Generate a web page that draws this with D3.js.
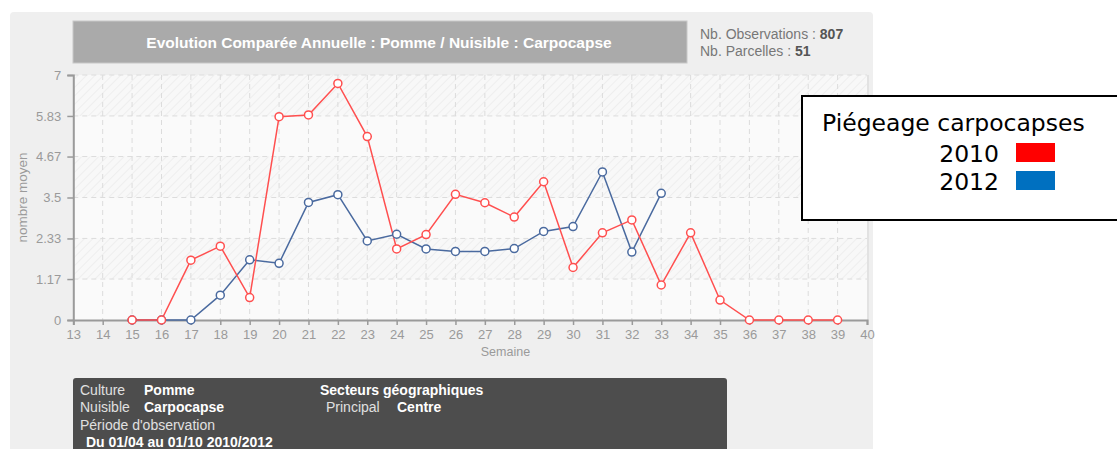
<!DOCTYPE html>
<html><head><meta charset="utf-8">
<script src="https://cdn.jsdelivr.net/npm/d3@7"></script>
<style>body{margin:0;background:#fff}svg{display:block}</style>
</head><body>
<script>
const weeks = d3.range(13, 41);
const yTicks = [0, 1.17, 2.33, 3.5, 4.67, 5.83, 7];
const yTickLabels = ["0", "1.17", "2.33", "3.5", "4.67", "5.83", "7"];
const weeks2010 = d3.range(15, 40);
const values2010 = [0, 0, 1.71, 2.11, 0.64, 5.81, 5.86, 6.76, 5.24, 2.03, 2.44, 3.59, 3.35, 2.94, 3.95, 1.5, 2.49, 2.86, 1.0, 2.49, 0.57, 0, 0, 0, 0];
const weeks2012 = d3.range(15, 34);
const values2012 = [0, 0, 0, 0.71, 1.72, 1.62, 3.36, 3.58, 2.26, 2.45, 2.03, 1.96, 1.96, 2.04, 2.53, 2.67, 4.23, 1.94, 3.62];
const legendTitle = "Piégeage carpocapses";
const legendItems = ["2010", "2012"];
const legendColors = ["#ff0000", "#0070c0"];
const lineColors = ["#ff4f4f", "#4a6a9f"];

const W = 1117, H = 449;
const svg = d3.select("body").append("svg").attr("width", W).attr("height", H);
const font = "'Liberation Sans', Arial, Helvetica, sans-serif";

// panel
svg.append("rect").attr("x", 10).attr("y", 12).attr("width", 863).attr("height", 450).attr("rx", 4).attr("fill", "#efefef");

// title bar
svg.append("rect").attr("x", 73).attr("y", 21).attr("width", 614).attr("height", 42).attr("fill", "#aaaaaa").attr("stroke", "#c8c8c8");
svg.append("text").attr("x", 379).attr("y", 48).attr("text-anchor", "middle").attr("fill", "#fff")
  .attr("font-family", font).attr("font-weight", "bold").attr("font-size", 15.5)
  .text("Evolution Comparée Annuelle : Pomme / Nuisible : Carpocapse");

// info
const info = svg.append("g").attr("font-family", font).attr("font-size", 14).attr("fill", "#777");
const t1 = info.append("text").attr("x", 700).attr("y", 39);
t1.append("tspan").text("Nb. Observations : ");
t1.append("tspan").attr("font-weight", "bold").attr("fill", "#555").text("807");
const t2 = info.append("text").attr("x", 700).attr("y", 56);
t2.append("tspan").text("Nb. Parcelles : ");
t2.append("tspan").attr("font-weight", "bold").attr("fill", "#555").text("51");

// scales
const x = d3.scaleLinear().domain([13, 40]).range([73.3, 867]);
const y = d3.scaleLinear().domain([0, 7]).range([320, 75]);

// hatch pattern
const defs = svg.append("defs");
const pat = defs.append("pattern").attr("id", "hatch").attr("patternUnits", "userSpaceOnUse")
  .attr("width", 6).attr("height", 6).attr("patternTransform", "rotate(45)");
pat.append("rect").attr("width", 6).attr("height", 6).attr("fill", "#f8f8f8");
pat.append("line").attr("x1", 0).attr("y1", 0).attr("x2", 0).attr("y2", 6).attr("stroke", "#e8e8e8").attr("stroke-width", 1.2);

// plot background
svg.append("rect").attr("x", x(13)).attr("y", y(7)).attr("width", x(40) - x(13)).attr("height", y(0) - y(7)).attr("fill", "#fafafa");
for (let i = 0; i < yTicks.length - 1; i++) {
  if (i % 2 === 1) {
    svg.append("rect").attr("x", x(13)).attr("y", y(yTicks[i + 1])).attr("width", x(40) - x(13))
      .attr("height", y(yTicks[i]) - y(yTicks[i + 1])).attr("fill", "url(#hatch)");
  }
}
svg.append("line").attr("x1", x(40) + 1).attr("x2", x(40) + 1).attr("y1", y(7)).attr("y2", y(0)).attr("stroke", "#e2e2e2").attr("stroke-width", 2);

// grid
const grid = svg.append("g").attr("stroke", "#dcdcdc").attr("stroke-dasharray", "5,4").attr("stroke-width", 1);
weeks.slice(1, -1).forEach(w => grid.append("line").attr("x1", x(w)).attr("x2", x(w)).attr("y1", y(7)).attr("y2", y(0)));
yTicks.slice(1).forEach(v => grid.append("line").attr("x1", x(13)).attr("x2", x(40)).attr("y1", y(v)).attr("y2", y(v)));

// axes
const xAxis = svg.append("g").attr("transform", `translate(0,${y(0)})`)
  .call(d3.axisBottom(x).tickValues(weeks).tickFormat(d3.format("d")).tickSizeOuter(0).tickSize(5).tickPadding(5));
const yAxis = svg.append("g").attr("transform", `translate(${x(13)},0)`)
  .call(d3.axisLeft(y).tickValues(yTicks).tickFormat((d, i) => yTickLabels[i]).tickSizeOuter(0).tickSize(6).tickPadding(6));
[xAxis, yAxis].forEach(a => {
  a.select(".domain").attr("stroke", "#9a9a9a").attr("stroke-width", 2);
  a.selectAll(".tick line").attr("stroke", "#9a9a9a").attr("stroke-width", 1.5);
  a.selectAll(".tick text").attr("fill", "#9a9a9a").attr("font-family", font).attr("font-size", 13);
});

svg.append("text").attr("x", x(27.7)).attr("y", 356).attr("text-anchor", "middle").attr("fill", "#9a9a9a")
  .attr("font-family", font).attr("font-size", 12.5).text("Semaine");
svg.append("text").attr("transform", `translate(27,${y(3.5)}) rotate(-90)`).attr("text-anchor", "middle").attr("fill", "#9a9a9a")
  .attr("font-family", font).attr("font-size", 13.5).text("nombre moyen");

// series
const line = d3.line().x(d => x(d[0])).y(d => y(d[1]));
const series = [
  d3.zip(weeks2012, values2012),
  d3.zip(weeks2010, values2010)
];
const cols = [lineColors[1], lineColors[0]];
series.forEach((s, i) => {
  svg.append("path").datum(s).attr("d", line).attr("fill", "none").attr("stroke", cols[i]).attr("stroke-width", 1.5);
});
series.forEach((s, i) => {
  svg.append("g").selectAll("circle").data(s).join("circle")
    .attr("cx", d => x(d[0])).attr("cy", d => y(d[1])).attr("r", 4)
    .attr("fill", "#fff").attr("stroke", cols[i]).attr("stroke-width", 1.5);
});

// bottom info box
svg.append("path").attr("d", "M73,449 L73,381 Q73,378 76,378 L724,378 Q727,378 727,381 L727,449 Z").attr("fill", "#4d4d4d");
const ib = svg.append("g").attr("font-family", font).attr("font-size", 14).attr("fill", "#e6e6e6");
const rows = [
  [80, 395, "Culture", false], [144, 395, "Pomme", true], [320, 395, "Secteurs géographiques", true],
  [80, 412, "Nuisible", false], [144, 412, "Carpocapse", true], [326, 412, "Principal", false], [397, 412, "Centre", true],
  [80, 430, "Période d'observation", false], [86, 447, "Du 01/04 au 01/10 2010/2012", true]
];
rows.forEach(r => ib.append("text").attr("x", r[0]).attr("y", r[1]).attr("font-weight", r[3] ? "bold" : "normal")
  .attr("fill", r[3] ? "#fff" : "#e0e0e0").text(r[2]));

// legend
const lg = svg.append("g").attr("font-family", "'DejaVu Sans', Verdana, sans-serif").attr("fill", "#000");
lg.append("rect").attr("x", 802).attr("y", 96).attr("width", 330).attr("height", 124).attr("fill", "#fff").attr("stroke", "#000").attr("stroke-width", 2);
lg.append("text").attr("x", 822).attr("y", 131).attr("font-size", 23.5).text(legendTitle);
legendItems.forEach((t, i) => {
  lg.append("text").attr("x", 999).attr("y", 162 + i * 28).attr("text-anchor", "end").attr("font-size", 23.5).text(t);
  lg.append("rect").attr("x", 1016).attr("y", 143 + i * 28).attr("width", 39).attr("height", 19).attr("fill", legendColors[i]);
});
</script>
</body></html>
